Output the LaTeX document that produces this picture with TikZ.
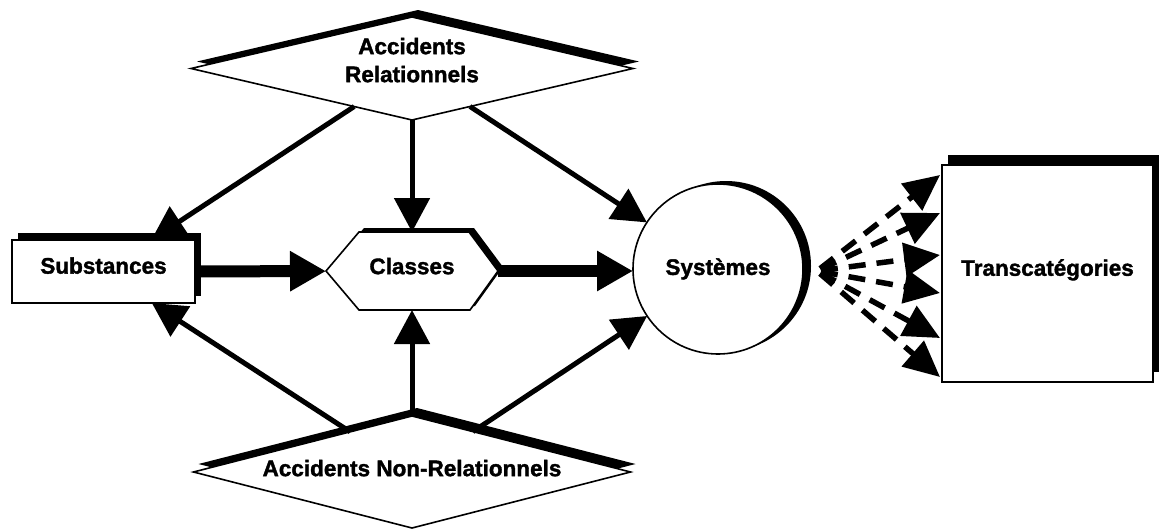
\documentclass[tikz,border=0pt]{standalone}
\usepackage{fontspec}
\setmainfont{Liberation Sans}[BoldFeatures={FakeBold=1.6}]
\usetikzlibrary{arrows.meta,shapes.geometric,shadows,calc,backgrounds}

\begin{document}
\begin{tikzpicture}[x=1pt,y=-1pt,
  font=\fontsize{22.5}{28}\selectfont\bfseries,
  every node/.style={inner sep=0pt, outer sep=0pt, align=center},
  boxline/.style={draw=black, line width=1.6pt, fill=white},
  offshadow/.style 2 args={general shadow={shadow xshift=#1pt, shadow yshift=#2pt, fill=black}},
  diam/.style={diamond, shape aspect=4.3, boxline},
  link/.style={line width=5pt, -{Triangle[length=34pt,width=35pt]}},
  flow/.style={line width=12pt, -{Triangle[length=36pt,width=38pt]}},
  spray/.style={line width=5.5pt, dash pattern=on 17pt off 11pt, shorten <=4pt,
    -{Triangle[length=36pt,width=33pt]}},
]
\useasboundingbox (0,0) rectangle (1161,530);

% category nodes
\node[diam, offshadow={6}{7}, minimum width=442pt, minimum height=103pt, text depth=17pt]
  (rel) at (412,68.5) {Accidents\\Relationnels};
\node[diam, offshadow={5}{8}, minimum width=437pt, minimum height=112pt, text depth=8pt]
  (nrel) at (412,472) {Accidents Non-Relationnels};
\node[rectangle, boxline, offshadow={6}{7}, minimum width=183pt, minimum height=63pt, text depth=12pt]
  (sub) at (103.5,271.5) {Substances};
\node[circle, boxline, offshadow={8}{3}, minimum size=170pt]
  (sys) at (718,269) {Systèmes};
\node[rectangle, boxline, offshadow={6}{10}, minimum width=211pt, minimum height=217pt, text depth=12pt]
  (tr) at (1047.5,273.5) {Transcatégories};
\node[minimum width=172pt, minimum height=78pt, text depth=10pt] (cls) at (412,271) {Classes};

% hexagon outline of the Classes node, with its shadow
\begin{scope}[on background layer]
  \def\hexpath{(cls.west) -- ($(cls.north west)+(33,0)$) -- ($(cls.north east)+(-29,0)$)
    -- (cls.east) -- ($(cls.south east)+(-28,0)$) -- ($(cls.south west)+(33,0)$) -- cycle}
  \fill[black, transform canvas={xshift=5pt,yshift=4pt}] \hexpath;
  \path[boxline] \hexpath;
\end{scope}

% relations
\draw[link] (rel) -- (sub);
\draw[link] (rel) -- (cls);
\draw[link] (rel) -- (sys);
\draw[link] (nrel) -- (sub);
\draw[link] (nrel) -- (cls);
\draw[link] (nrel) -- (sys);

% main flow
\draw[flow] (sub) -- (cls);
\draw[flow] (cls.east) -- (cls.east -| sys.west);

% dashed spray towards the transcategories
\coordinate (fan) at ($(sys.east)+(14,2)$);
\foreach \dy [count=\i] in {10,48,90,128,173,212} {
  \coordinate (t\i) at ($(tr.north west)+(-2,\dy)$);
  \draw[spray] (fan) -- (t\i);
}
\end{tikzpicture}
\end{document}
